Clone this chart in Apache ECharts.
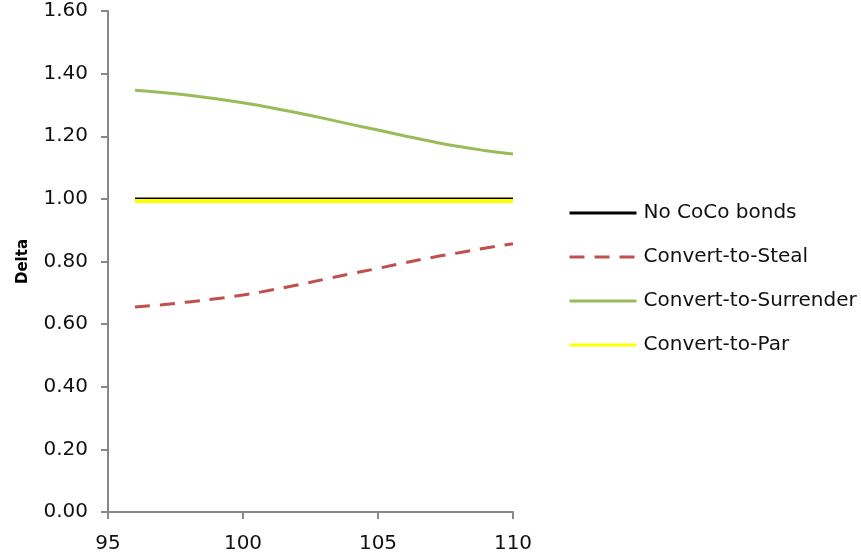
<!DOCTYPE html>
<html>
<head>
<meta charset="utf-8">
<script src="https://cdn.jsdelivr.net/npm/echarts@6/dist/echarts.min.js"></script>
<style>html,body{margin:0;padding:0;background:#fff}#c{width:861px;height:558px}</style>
</head>
<body>
<div id="c"></div>
<script>
const xValues = [96, 97, 98, 99, 100, 101, 102, 103, 104, 105, 106, 107, 108, 109, 110];
const noCoco = [1.00, 1.00, 1.00, 1.00, 1.00, 1.00, 1.00, 1.00, 1.00, 1.00, 1.00, 1.00, 1.00, 1.00, 1.00];
const convertToSteal = [0.655, 0.662, 0.671, 0.681, 0.693, 0.708, 0.725, 0.743, 0.761, 0.778, 0.796, 0.813, 0.828, 0.843, 0.857];
const convertToSurrender = [1.347, 1.340, 1.331, 1.320, 1.307, 1.292, 1.275, 1.257, 1.238, 1.220, 1.201, 1.183, 1.167, 1.154, 1.143];
const convertToPar = [0.993, 0.993, 0.993, 0.993, 0.993, 0.993, 0.993, 0.993, 0.993, 0.993, 0.993, 0.993, 0.993, 0.993, 0.993];
const seriesNames = ['No CoCo bonds', 'Convert-to-Steal', 'Convert-to-Surrender', 'Convert-to-Par'];
const yAxisTitle = 'Delta';

const pairs = arr => xValues.map((x, i) => [x, arr[i]]);
const font = 'DejaVu Sans';

const chart = echarts.init(document.getElementById('c'), null, {renderer: 'canvas'});
chart.setOption({
  animation: false,
  backgroundColor: '#fff',
  grid: {left: 108, right: 348, top: 11, bottom: 46, containLabel: false},
  xAxis: {
    type: 'value', min: 95, max: 110, interval: 5,
    axisLine: {show: true, lineStyle: {color: '#888', width: 2}},
    axisTick: {show: true, length: 7, lineStyle: {color: '#888', width: 2}},
    axisLabel: {color: '#111', fontFamily: font, fontSize: 20, margin: 22},
    splitLine: {show: false}
  },
  yAxis: {
    type: 'value', min: 0, max: 1.6, interval: 0.2,
    name: yAxisTitle, nameLocation: 'middle', nameGap: 77, nameRotate: 90,
    nameTextStyle: {color: '#000', fontFamily: font, fontSize: 15, fontWeight: 'bold'},
    axisLine: {show: true, lineStyle: {color: '#888', width: 2}},
    axisTick: {show: true, length: 7, lineStyle: {color: '#888', width: 2}},
    axisLabel: {color: '#111', fontFamily: font, fontSize: 20, margin: 20, formatter: v => v.toFixed(2)},
    splitLine: {show: false}
  },
  legend: {
    orient: 'vertical', left: 568, top: 203, padding: 0,
    itemWidth: 67, itemHeight: 14, itemGap: 24,
    itemStyle: {opacity: 0},
    lineStyle: {width: 3},
    textStyle: {color: '#111', fontFamily: font, fontSize: 20, padding: [0, 0, 0, 2]},
    data: seriesNames
  },
  series: [
    {name: seriesNames[0], type: 'line', data: pairs(noCoco), symbol: 'none', smooth: true,
     lineStyle: {color: '#000', width: 3}, itemStyle: {color: '#000'}},
    {name: seriesNames[1], type: 'line', data: pairs(convertToSteal), symbol: 'none', smooth: true,
     lineStyle: {color: '#C0504D', width: 3, type: [15, 10]}, itemStyle: {color: '#C0504D'}},
    {name: seriesNames[2], type: 'line', data: pairs(convertToSurrender), symbol: 'none', smooth: true,
     lineStyle: {color: '#9BBB59', width: 3}, itemStyle: {color: '#9BBB59'}},
    {name: seriesNames[3], type: 'line', data: pairs(convertToPar), symbol: 'none', smooth: true,
     lineStyle: {color: '#FFFF00', width: 4}, itemStyle: {color: '#FFFF00'}}
  ]
});
</script>
</body>
</html>
